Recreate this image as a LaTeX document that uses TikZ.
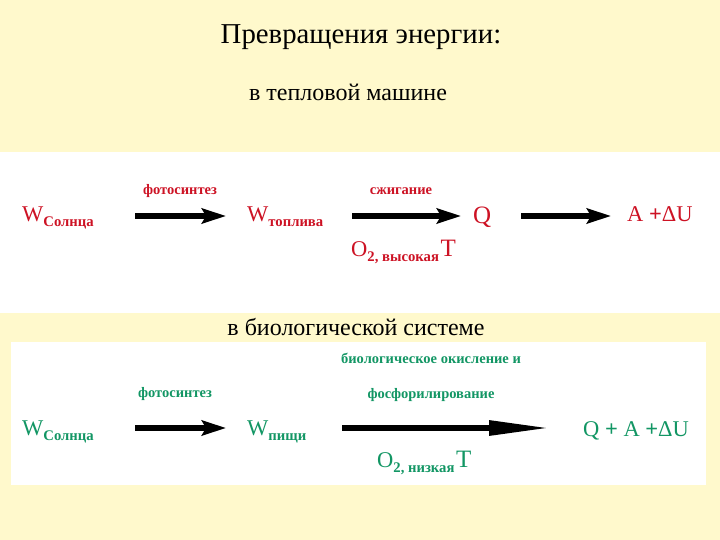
\documentclass[tikz,border=0pt]{standalone}
\usepackage{fontspec}
\setmainfont{Liberation Serif}
\usetikzlibrary{arrows.meta}
\definecolor{bgy}{RGB}{255,249,204}
\definecolor{rd}{RGB}{205,18,36}
\definecolor{gr}{RGB}{18,150,100}
\newcommand{\bigtxt}[1]{{\fontsize{22.5}{23}\selectfont #1}}
\newcommand{\bigtT}[1]{{\fontsize{25}{25}\selectfont #1}}
\newcommand{\subtxt}[1]{\raisebox{-5pt}{\bfseries\fontsize{14.7}{15}\selectfont #1}}
\begin{document}
\begin{tikzpicture}[x=1pt,y=-1pt,
  lbl/.style={inner sep=0pt, anchor=base},
  term/.style={inner sep=0pt, anchor=base west},
  proc/.style={inner sep=0pt, anchor=base, font=\bfseries\fontsize{14.5}{15}\selectfont},
  arr/.style={line width=6pt, -{Stealth[length=24pt,width=15pt,inset=4pt]}},
  longarr/.style={line width=6pt, -{Triangle[length=62pt,width=14pt]}}]
\useasboundingbox (0,0) rectangle (720,540);
\fill[bgy] (0,0) rectangle (720,540);
\fill[white] (0,152) rectangle (720,313);
\fill[white] (11,342) rectangle (706,485);
% titles
\node[lbl] (title) at (361,44) {\fontsize{28.8}{30}\selectfont Превращения энергии:};
\node[lbl] (sub1) at (348,101) {\fontsize{24}{26}\selectfont в тепловой машине};
\node[lbl] (sub2) at (356,335) {\fontsize{24}{26}\selectfont в биологической системе};
% top row
\begin{scope}[rd]
\node[term] (ws1) at (22,222) {\bigtxt{W}\subtxt{Солнца}};
\node[term] (wt1) at (247,222) {\bigtxt{W}\subtxt{топлива}};
\node[term] (q1) at (473,224) {\bigtT{Q}};
\node[term] (au1) at (627,222) {\bigtxt{A \textbf{+}ΔU}};
\node[term] (o1) at (351,256) {\bigtxt{O}\subtxt{2, высокая}\,\bigtT{T}};
\node[proc] (p1) at (180,195) {фотосинтез};
\node[proc] (p2) at (401,195) {сжигание};
\end{scope}
\coordinate (a1s) at (135,216); \coordinate (a1e) at (226,216);
\coordinate (a2s) at (352,216); \coordinate (a2e) at (461,216);
\coordinate (a3s) at (521,216); \coordinate (a3e) at (611,216);
\draw[arr] (a1s) -- (a1e);
\draw[arr] (a2s) -- (a2e);
\draw[arr] (a3s) -- (a3e);
% bottom row
\begin{scope}[gr]
\node[term] (ws2) at (22,435) {\bigtxt{W}\subtxt{Солнца}};
\node[term] (wp2) at (247,435) {\bigtxt{W}\subtxt{пищи}};
\node[term] (qau2) at (583,436) {\bigtxt{Q \textbf{+} A \textbf{+}ΔU}};
\node[term] (o2) at (377,467) {\bigtxt{O}\subtxt{2, низкая}\,\bigtT{T}};
\node[proc] (p3) at (175,397) {фотосинтез};
\node[proc] (p4) at (431,363) {биологическое окисление и};
\node[proc] (p5) at (431,398) {фосфорилирование};
\end{scope}
\coordinate (b1s) at (135,428); \coordinate (b1e) at (226,428);
\coordinate (b2s) at (342,428); \coordinate (b2e) at (551,428);
\draw[arr] (b1s) -- (b1e);
\draw[longarr] (b2s) -- (b2e);
\end{tikzpicture}
\end{document}
